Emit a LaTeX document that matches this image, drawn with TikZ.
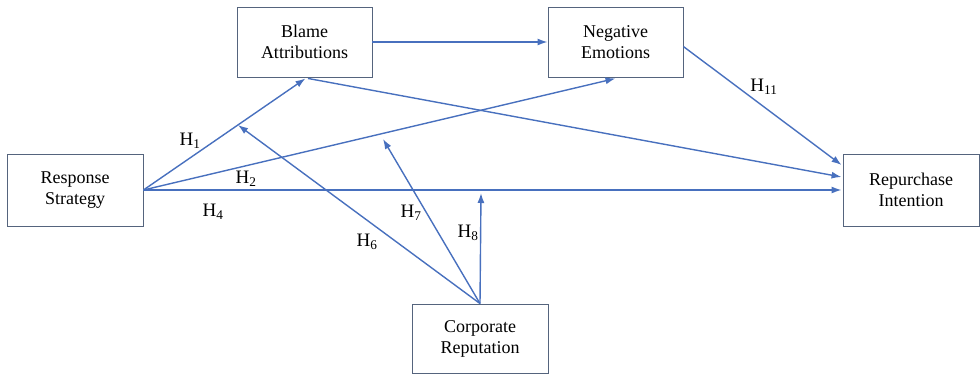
\documentclass[tikz,border=0pt]{standalone}
\usepackage{fontspec}
\setmainfont{Liberation Serif}
\usetikzlibrary{arrows.meta,calc}
\definecolor{lineblue}{RGB}{72,112,190}
\definecolor{boxedge}{RGB}{85,100,125}
\begin{document}
\begin{tikzpicture}[x=1pt,y=-1pt,
  box/.style={draw=boxedge,line width=0.9pt,fill=white,minimum width=135pt,minimum height=70pt,
    align=center,inner sep=0pt,font=\fontsize{18}{21}\selectfont},
  conn/.style={draw=lineblue,line width=1.4pt,-{Latex[length=10pt,width=7pt]}},
  hlab/.style={font=\fontsize{19}{22}\selectfont,inner sep=0pt}]
\useasboundingbox (0,0) rectangle (980,375);
\node[box] (ba) at (304.5,42) {Blame\\Attributions};
\node[box] (ne) at (615.5,42) {Negative\\Emotions};
\node[box,minimum width=136pt,minimum height=72pt] (rs) at (75,190) {Response\\Strategy};
\node[box,minimum width=136pt,minimum height=72pt] (ri) at (911,190) {Repurchase\\Intention};
\node[box,minimum width=136pt,minimum height=69pt] (cr) at (480,338.5) {Corporate\\Reputation};
% helper coordinates
\coordinate (baS) at ($(ba.south)+(1,1)$);
\coordinate (baS2) at ($(ba.south)+(3.5,1)$);
\coordinate (neS) at ($(ne.south)+(0,1)$);
\coordinate (neE) at ($(ne.north east)+(0,40)$);
\coordinate (riA) at ($(ri.west)+(-1,-25)$);
\coordinate (riB) at ($(ri.west)+(-1,-13)$);
\coordinate (riC) at ($(ri.west)+(-1,0)$);
\coordinate (rsE) at (rs.east);
\coordinate (m6) at (238,125);
\coordinate (m7) at (383,139);
\coordinate (m8) at (481,193);
% connectors
\draw[conn] (ba.east) -- (ne.west);
\draw[conn] (rsE) -- (baS);
\draw[conn] (rsE) -- (neS);
\draw[conn] (rsE) -- (riC);
\draw[conn] (baS2) -- (riB);
\draw[conn] (neE) -- (riA);
\draw[conn] (cr.north) -- (m6);
\draw[conn] (cr.north) -- (m7);
\draw[conn] (cr.north) -- (m8);
% labels
\node[hlab] (h1) at (190,141) {H\textsubscript{1}};
\node[hlab] (h2) at (246,179) {H\textsubscript{2}};
\node[hlab] (h4) at (213,212) {H\textsubscript{4}};
\node[hlab] (h6) at (367,242) {H\textsubscript{6}};
\node[hlab] (h7) at (411,213) {H\textsubscript{7}};
\node[hlab] (h8) at (468,233) {H\textsubscript{8}};
\node[hlab] (h11) at (764,87) {H\textsubscript{11}};
\end{tikzpicture}
\end{document}
